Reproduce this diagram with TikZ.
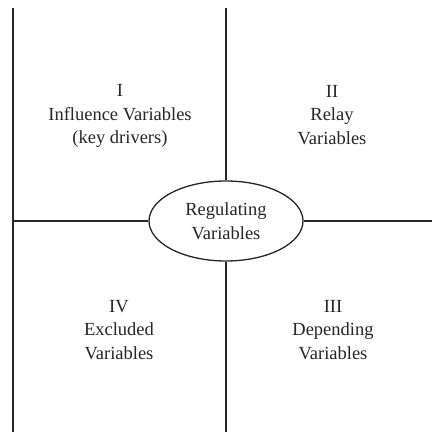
\documentclass[tikz,border=0pt]{standalone}
\usepackage{fontspec}
\setmainfont{Liberation Serif}
\usetikzlibrary{shapes.geometric}
\definecolor{textgray}{HTML}{262626}
\tikzset{
	quadtext/.style={align=center, text=textgray, font=\fontsize{18.5}{23.5}\selectfont},
	axis/.style={line width=1.3pt, black!85}
}
\begin{document}
\begin{tikzpicture}[x=1pt, y=1pt]
	\useasboundingbox (0,0) rectangle (432,432);
	% Achsen
	\coordinate (lefttop) at (13, 424);
	\coordinate (leftbot) at (13, 0);
	\coordinate (midtop) at (226, 424);
	\coordinate (midbot) at (226, 0);
	\coordinate (leftmid) at (13, 211);
	\coordinate (rightmid) at (432, 211);
	\node[draw, axis, ellipse, minimum width=154pt, minimum height=80pt, inner sep=0pt, quadtext] (reg) at (226, 211) {Regulating\\Variables};
	\draw[axis](lefttop) -- (leftbot);
	\draw[axis](midtop) -- (reg.north);
	\draw[axis](reg.south) -- (midbot);
	\draw[axis](leftmid) -- (reg.west);
	\draw[axis](reg.east) -- (rightmid);
	% Quadranten
	\node[quadtext] (q1) at (120, 316) {I\\Influence Variables\\(key drivers)};
	\node[quadtext] (q2) at (332, 317) {II\\Relay\\Variables};
	\node[quadtext] (q3) at (333, 102) {III\\Depending\\Variables};
	\node[quadtext] (q4) at (119, 102) {IV\\Excluded\\Variables};
\end{tikzpicture}
\end{document}
